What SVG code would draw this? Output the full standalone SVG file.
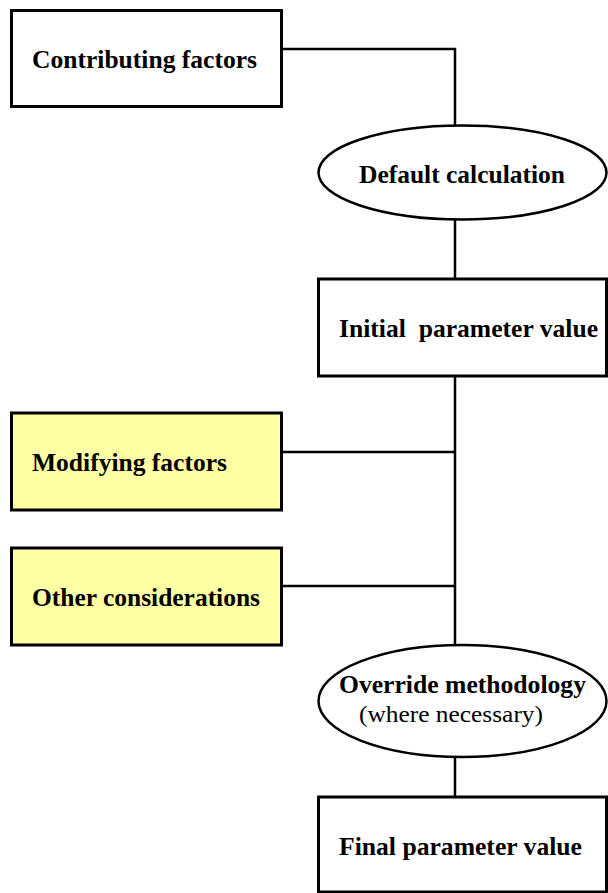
<svg xmlns="http://www.w3.org/2000/svg" width="608" height="893" viewBox="0 0 608 893">
<style>
.box{fill:#fff;stroke:#000;stroke-width:3}
.yel{fill:#FFFFA3;stroke:#000;stroke-width:3}
.ell{fill:#fff;stroke:#000;stroke-width:2.5}
.con{fill:none;stroke:#000;stroke-width:2.5}
.t{font-family:"Liberation Serif","Times New Roman",serif;font-size:26px;font-weight:bold;fill:#000}
.r{font-family:"Liberation Serif","Times New Roman",serif;font-size:24px;font-weight:normal;fill:#000}
</style>
<rect width="608" height="893" fill="#fff"/>
<g id="connectors">
<polyline class="con" points="281,49 455,49 455,125"/>
<line class="con" x1="455" y1="220" x2="455" y2="279"/>
<line class="con" x1="455" y1="376" x2="455" y2="645"/>
<line class="con" x1="281" y1="452" x2="455" y2="452"/>
<line class="con" x1="281" y1="586" x2="455" y2="586"/>
<line class="con" x1="455" y1="757" x2="455" y2="797"/>
</g>
<g id="contributing">
<rect class="box" x="11.5" y="10.5" width="270" height="96"/>
<text class="t" x="32" y="68" textLength="225" lengthAdjust="spacingAndGlyphs">Contributing factors</text>
</g>
<g id="default">
<ellipse class="ell" cx="462.5" cy="172.5" rx="144" ry="47"/>
<text class="t" x="359" y="183" textLength="206" lengthAdjust="spacingAndGlyphs">Default calculation</text>
</g>
<g id="initial">
<rect class="box" x="318.5" y="279" width="288" height="97"/>
<text class="t" x="339" y="337" textLength="259" lengthAdjust="spacingAndGlyphs" xml:space="preserve">Initial  parameter value</text>
</g>
<g id="modifying">
<rect class="yel" x="11.5" y="413" width="270" height="97"/>
<text class="t" x="32" y="471" textLength="195" lengthAdjust="spacingAndGlyphs">Modifying factors</text>
</g>
<g id="other">
<rect class="yel" x="11.5" y="548" width="270" height="97"/>
<text class="t" x="32" y="606" textLength="228" lengthAdjust="spacingAndGlyphs">Other considerations</text>
</g>
<g id="override">
<ellipse class="ell" cx="462.5" cy="701" rx="144" ry="56"/>
<text class="t" x="339" y="693" textLength="247" lengthAdjust="spacingAndGlyphs">Override methodology</text>
<text class="r" x="359" y="722" textLength="184" lengthAdjust="spacingAndGlyphs">(where necessary)</text>
</g>
<g id="final">
<rect class="box" x="318.5" y="797" width="288" height="95"/>
<text class="t" x="339" y="855" textLength="243" lengthAdjust="spacingAndGlyphs">Final parameter value</text>
</g>
</svg>
